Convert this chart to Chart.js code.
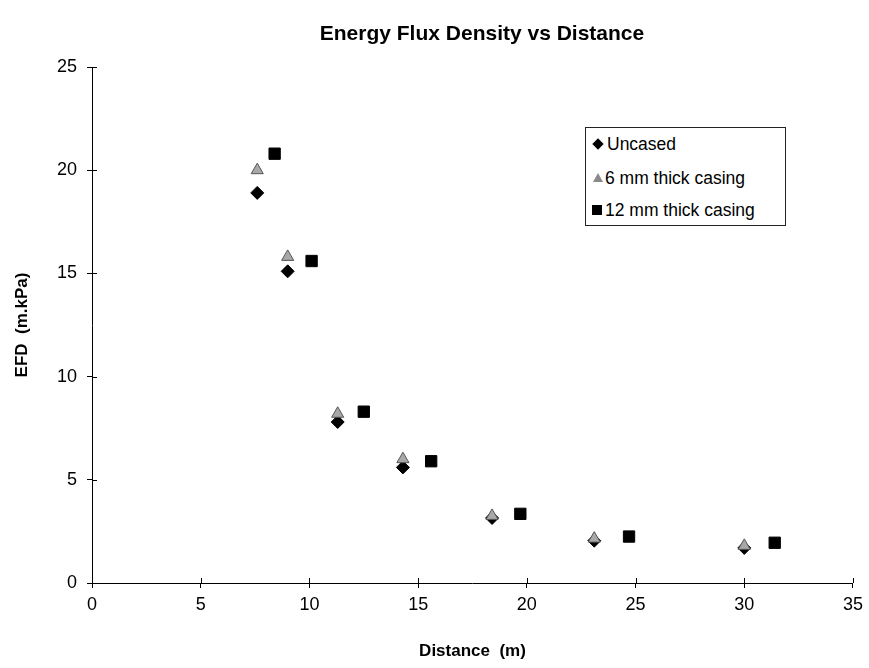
<!DOCTYPE html>
<html>
<head>
<meta charset="utf-8">
<script src="https://cdn.jsdelivr.net/npm/chart.js@4/dist/chart.umd.min.js"></script>
<style>
  html, body { margin: 0; padding: 0; background: #fff; }
  #wrap { position: relative; width: 869px; height: 668px; }
  #title {
    position: absolute; left: 232px; width: 500px; top: 21px; text-align: center;
    font-family: Arial, "Liberation Sans", sans-serif; font-weight: bold; font-size: 21px;
    line-height: 24px; color: #000; white-space: nowrap;
  }
  #legend {
    position: absolute; left: 585px; top: 127px; width: 199px; height: 97px;
    border: 1px solid #222; background: #fff;
    font-family: Arial, "Liberation Sans", sans-serif; font-size: 17.5px; color: #000;
  }
  .row { position: absolute; left: 6px; height: 20px; line-height: 20px; white-space: nowrap; }
  .mk { display: inline-block; vertical-align: middle; margin-right: 3px; }
  .dia { width: 8px; height: 8px; background: #000; transform: rotate(45deg); margin: 0 5px 2px 2px; }
  .tri { width: 0; height: 0; border-left: 5px solid transparent; border-right: 5px solid transparent;
         border-bottom: 9px solid #8a8a8a; margin: 0 2px 3px 1px; }
  .sq { width: 10px; height: 10px; background: #000; margin: 0 3px 2px 0; }
</style>
</head>
<body>
<div id="wrap">
  <canvas id="efdChart" width="869" height="668"></canvas>
  <div id="title">Energy Flux Density vs Distance</div>
  <div id="legend">
    <div class="row" style="top:6px"><span class="mk dia"></span>Uncased</div>
    <div class="row" style="top:40px"><span class="mk tri"></span>6 mm thick casing</div>
    <div class="row" style="top:72px"><span class="mk sq"></span>12 mm thick casing</div>
  </div>
</div>
<script>
// values (distance in m, EFD in m.kPa)
const uncasedX = [7.6, 9.0, 11.3, 14.3, 18.4, 23.1, 30.0];
const uncasedY = [18.9, 15.1, 7.8, 5.6, 3.15, 2.05, 1.7];
const casing6X = [7.6, 9.0, 11.3, 14.3, 18.4, 23.1, 30.0];
const casing6Y = [20.0, 15.8, 8.2, 6.0, 3.25, 2.15, 1.8];
const casing12X = [8.4, 10.1, 12.5, 15.6, 19.7, 24.7, 31.4];
const casing12Y = [20.8, 15.6, 8.3, 5.9, 3.35, 2.25, 1.95];
const xTicks = [0, 5, 10, 15, 20, 25, 30, 35];
const yTicks = [0, 5, 10, 15, 20, 25];

const pts = (xs, ys) => xs.map((x, i) => ({ x: x, y: ys[i] }));
const font = "Arial, 'Liberation Sans', sans-serif";

// short tick marks inside the plot too, so they cross the axis line
const innerTicks = {
  id: "innerTicks",
  afterDraw(chart) {
    const ctx = chart.ctx;
    const xs = chart.scales.x, ys = chart.scales.y;
    ctx.save();
    ctx.strokeStyle = "#000";
    ctx.lineWidth = 1;
    ctx.beginPath();
    xTicks.forEach(v => {
      const px = Math.round(xs.getPixelForValue(v)) + 0.5;
      ctx.moveTo(px, ys.bottom);
      ctx.lineTo(px, ys.bottom - 5);
    });
    yTicks.forEach(v => {
      const py = Math.round(ys.getPixelForValue(v)) + 0.5;
      ctx.moveTo(xs.left, py);
      ctx.lineTo(xs.left + 5, py);
    });
    ctx.stroke();
    ctx.restore();
  }
};

const ctx = document.getElementById("efdChart").getContext("2d");
new Chart(ctx, {
  type: "scatter",
  data: {
    datasets: [
      {
        label: "6 mm thick casing",
        data: pts(casing6X, casing6Y),
        pointStyle: "triangle",
        pointRadius: 7,
        backgroundColor: "#a8a8a8",
        borderColor: "#555",
        borderWidth: 1
      },
      {
        label: "12 mm thick casing",
        data: pts(casing12X, casing12Y),
        pointStyle: "rect",
        pointRadius: 8,
        backgroundColor: "#000",
        borderColor: "#000",
        borderWidth: 1
      },
      {
        label: "Uncased",
        data: pts(uncasedX, uncasedY),
        pointStyle: "rectRot",
        pointRadius: 6.5,
        backgroundColor: "#000",
        borderColor: "#000",
        borderWidth: 1
      }
    ]
  },
  options: {
    responsive: false,
    animation: false,
    layout: { padding: { left: 0, right: 13, top: 67, bottom: 0 } },
    scales: {
      x: {
        type: "linear",
        min: 0, max: 35,
        afterFit(s) { s.height = 85; },
        afterBuildTicks(s) { s.ticks = xTicks.map(v => ({ value: v })); },
        ticks: { color: "#000", font: { family: font, size: 18 }, padding: 6 },
        grid: { drawOnChartArea: false, tickLength: 5, color: "#000" },
        border: { color: "#000", width: 1 },
        title: {
          display: true, text: "Distance  (m)", color: "#000",
          font: { family: font, size: 17, weight: "bold" },
          padding: { top: 4, bottom: 6 }
        }
      },
      y: {
        type: "linear",
        min: 0, max: 25,
        afterFit(s) { s.width = 92; },
        afterBuildTicks(s) { s.ticks = yTicks.map(v => ({ value: v })); },
        ticks: { color: "#000", font: { family: font, size: 18 }, padding: 10 },
        grid: { drawOnChartArea: false, tickLength: 5, color: "#000" },
        border: { color: "#000", width: 1 },
        title: {
          display: true, text: "EFD  (m.kPa)", color: "#000",
          font: { family: font, size: 17, weight: "bold" },
          padding: { top: 12, bottom: 0 }
        }
      }
    },
    plugins: {
      legend: { display: false },
      tooltip: { enabled: false },
      title: { display: false }
    }
  },
  plugins: [innerTicks]
});
</script>
</body>
</html>
